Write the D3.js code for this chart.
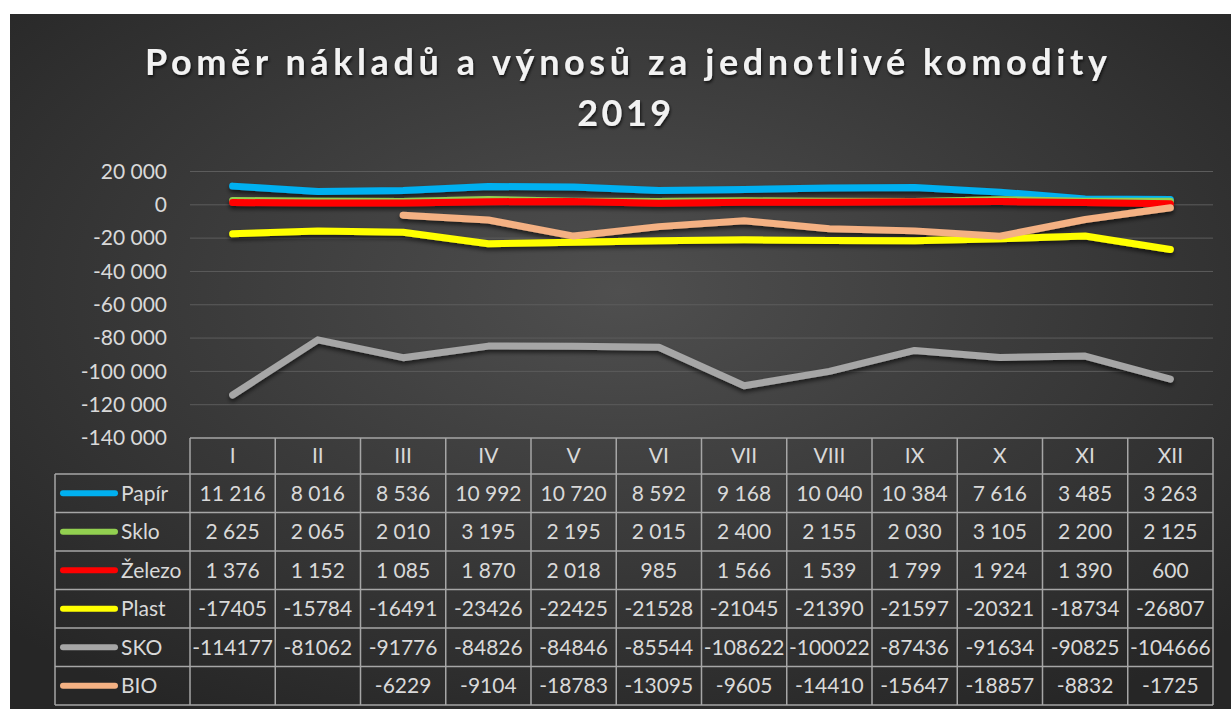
<!DOCTYPE html>
<meta charset="utf-8">

<!-- Load d3.js -->
<script src="https://d3js.org/d3.v7.min.js"></script>

<style>
  body { margin: 0; background: #ffffff; }
  text { font-family: Lato, "Open Sans", sans-serif; }
</style>

<div id="my_dataviz"></div>

<script>
// data
var months = ["I", "II", "III", "IV", "V", "VI", "VII", "VIII", "IX", "X", "XI", "XII"];
var seriesNames = ["Papír", "Sklo", "Železo", "Plast", "SKO", "BIO"];
var papir  = [11216, 8016, 8536, 10992, 10720, 8592, 9168, 10040, 10384, 7616, 3485, 3263];
var sklo   = [2625, 2065, 2010, 3195, 2195, 2015, 2400, 2155, 2030, 3105, 2200, 2125];
var zelezo = [1376, 1152, 1085, 1870, 2018, 985, 1566, 1539, 1799, 1924, 1390, 600];
var plast  = [-17405, -15784, -16491, -23426, -22425, -21528, -21045, -21390, -21597, -20321, -18734, -26807];
var sko    = [-114177, -81062, -91776, -84826, -84846, -85544, -108622, -100022, -87436, -91634, -90825, -104666];
var bio    = [null, null, -6229, -9104, -18783, -13095, -9605, -14410, -15647, -18857, -8832, -1725];
var yTicks = [20000, 0, -20000, -40000, -60000, -80000, -100000, -120000, -140000];

var colours = {"Papír": "#00b0f0", "Sklo": "#92d050", "Železo": "#ff0000", "Plast": "#ffff00", "SKO": "#a6a6a6", "BIO": "#f4b183"};
// first three rows of the table use a thousands separator, the rest don't
var grouped = {"Papír": true, "Sklo": true, "Železo": true, "Plast": false, "SKO": false, "BIO": false};

var series = [
  {name: "Papír", values: papir},
  {name: "Sklo", values: sklo},
  {name: "Železo", values: zelezo},
  {name: "Plast", values: plast},
  {name: "SKO", values: sko},
  {name: "BIO", values: bio}
];

var W = 1231, H = 709;
var plotLeft = 190, plotRight = 1213, plotTop = 171.5, plotBottom = 438;
var headerH = 36, rowH = 38.5, legendLeft = 55;
var fontSize = 21;

var locale = d3.formatLocale({decimal: ",", thousands: "\u00a0", grouping: [3], currency: ["", ""], minus: "-"});
var fmtGroup = locale.format(",d");
var fmtPlain = locale.format("d");

var svg = d3.select("#my_dataviz")
  .append("svg")
    .attr("width", W)
    .attr("height", H);

var defs = svg.append("defs");
var grad = defs.append("radialGradient")
    .attr("id", "bg")
    .attr("cx", "50%").attr("cy", "40%").attr("r", "70%");
grad.append("stop").attr("offset", "0%").attr("stop-color", "#4f4f4f");
grad.append("stop").attr("offset", "100%").attr("stop-color", "#262626");

var shadow = defs.append("filter")
    .attr("id", "shadow")
    .attr("x", "-10%").attr("y", "-50%").attr("width", "120%").attr("height", "200%");
shadow.append("feDropShadow")
    .attr("dx", 0).attr("dy", 3).attr("stdDeviation", 2)
    .attr("flood-color", "#000").attr("flood-opacity", 0.6);

var tshadow = defs.append("filter").attr("id", "tshadow");
tshadow.append("feDropShadow")
    .attr("dx", 1).attr("dy", 2).attr("stdDeviation", 1.5)
    .attr("flood-color", "#000").attr("flood-opacity", 0.7);

// background
svg.append("rect")
    .attr("x", 10).attr("y", 14)
    .attr("width", W - 10).attr("height", H - 14)
    .attr("fill", "url(#bg)");

// title
var title = svg.append("g")
    .attr("fill", "#f2f2f2")
    .attr("font-weight", "bold")
    .attr("font-size", 36)
    .attr("filter", "url(#tshadow)");
title.append("text").attr("x", 145).attr("y", 75)
    .attr("textLength", 962)
    .attr("lengthAdjust", "spacing")
    .text("Poměr nákladů a výnosů za jednotlivé komodity");
title.append("text").attr("x", 626).attr("y", 126)
    .attr("text-anchor", "middle")
    .style("letter-spacing", "3.5px")
    .text("2019");

// scales
var x = d3.scaleBand()
    .domain(months)
    .range([plotLeft, plotRight]);
var y = d3.scaleLinear()
    .domain([-140000, 20000])
    .range([plotBottom, plotTop]);

// gridlines
svg.append("g")
  .selectAll("line")
  .data(yTicks.slice(0, -1))
  .enter()
  .append("line")
    .attr("x1", plotLeft).attr("x2", plotRight)
    .attr("y1", function(d) { return y(d); })
    .attr("y2", function(d) { return y(d); })
    .attr("stroke", "#5c5c5c")
    .attr("stroke-width", 1);

// y axis labels
var yAxis = svg.append("g")
    .attr("transform", "translate(" + (plotLeft - 8) + ",0)")
    .call(d3.axisLeft(y).tickValues(yTicks).tickFormat(fmtGroup).tickSize(0).tickPadding(15));
yAxis.select(".domain").remove();
yAxis.selectAll("text")
    .attr("fill", "#d9d9d9")
    .attr("font-size", fontSize)
    .style("font-family", "Lato, sans-serif");

// lines
var line = d3.line()
    .defined(function(d) { return d.v !== null; })
    .x(function(d) { return x(d.m) + x.bandwidth() / 2; })
    .y(function(d) { return y(d.v); });

svg.append("g")
    .attr("filter", "url(#shadow)")
  .selectAll("path")
  .data(series)
  .enter()
  .append("path")
    .attr("d", function(s) {
      return line(s.values.map(function(v, i) { return {m: months[i], v: v}; }));
    })
    .attr("fill", "none")
    .attr("stroke", function(s) { return colours[s.name]; })
    .attr("stroke-width", 7)
    .attr("stroke-linecap", "round")
    .attr("stroke-linejoin", "round");

// data table
var table = svg.append("g");
var border = "#a6a6a6";
var tableBottom = plotBottom + headerH + rowH * series.length;

// header row
table.selectAll(".hdr")
  .data(months)
  .enter()
  .append("text")
    .attr("class", "hdr")
    .attr("x", function(d) { return x(d) + x.bandwidth() / 2; })
    .attr("y", plotBottom + headerH / 2)
    .attr("dy", "0.35em")
    .attr("text-anchor", "middle")
    .attr("font-size", fontSize)
    .attr("fill", "#d9d9d9")
    .text(function(d) { return d; });

// series rows
series.forEach(function(s, r) {
  var cy = plotBottom + headerH + rowH * (r + 0.5);
  var fmt = grouped[s.name] ? fmtGroup : fmtPlain;

  table.append("line")
      .attr("x1", legendLeft + 8).attr("x2", legendLeft + 60)
      .attr("y1", cy).attr("y2", cy)
      .attr("stroke", colours[s.name])
      .attr("stroke-width", 6)
      .attr("stroke-linecap", "round");
  table.append("text")
      .attr("x", legendLeft + 66)
      .attr("y", cy)
      .attr("dy", "0.35em")
      .attr("font-size", fontSize)
      .attr("fill", "#d9d9d9")
      .text(s.name);

  table.selectAll(".v" + r)
    .data(s.values)
    .enter()
    .append("text")
      .attr("x", function(d, i) { return x(months[i]) + x.bandwidth() / 2; })
      .attr("y", cy)
      .attr("dy", "0.35em")
      .attr("text-anchor", "middle")
      .attr("font-size", fontSize)
      .attr("fill", "#d9d9d9")
      .text(function(d) { return d === null ? "" : fmt(d); });
});

// table grid
var hLines = [plotBottom];
for (var i = 0; i <= series.length; i++) hLines.push(plotBottom + headerH + rowH * i);
table.selectAll(".hl")
  .data(hLines)
  .enter()
  .append("line")
    .attr("x1", function(d, i) { return i === 0 ? plotLeft : legendLeft; })
    .attr("x2", plotRight)
    .attr("y1", function(d) { return d; })
    .attr("y2", function(d) { return d; })
    .attr("stroke", border)
    .attr("stroke-width", 1.5);

var vLines = months.map(function(m) { return x(m); }).concat([plotRight]);
table.selectAll(".vl")
  .data(vLines)
  .enter()
  .append("line")
    .attr("x1", function(d) { return d; })
    .attr("x2", function(d) { return d; })
    .attr("y1", plotBottom)
    .attr("y2", tableBottom)
    .attr("stroke", border)
    .attr("stroke-width", 1.5);
table.append("line")
    .attr("x1", legendLeft).attr("x2", legendLeft)
    .attr("y1", plotBottom + headerH).attr("y2", tableBottom)
    .attr("stroke", border)
    .attr("stroke-width", 1.5);
</script>
